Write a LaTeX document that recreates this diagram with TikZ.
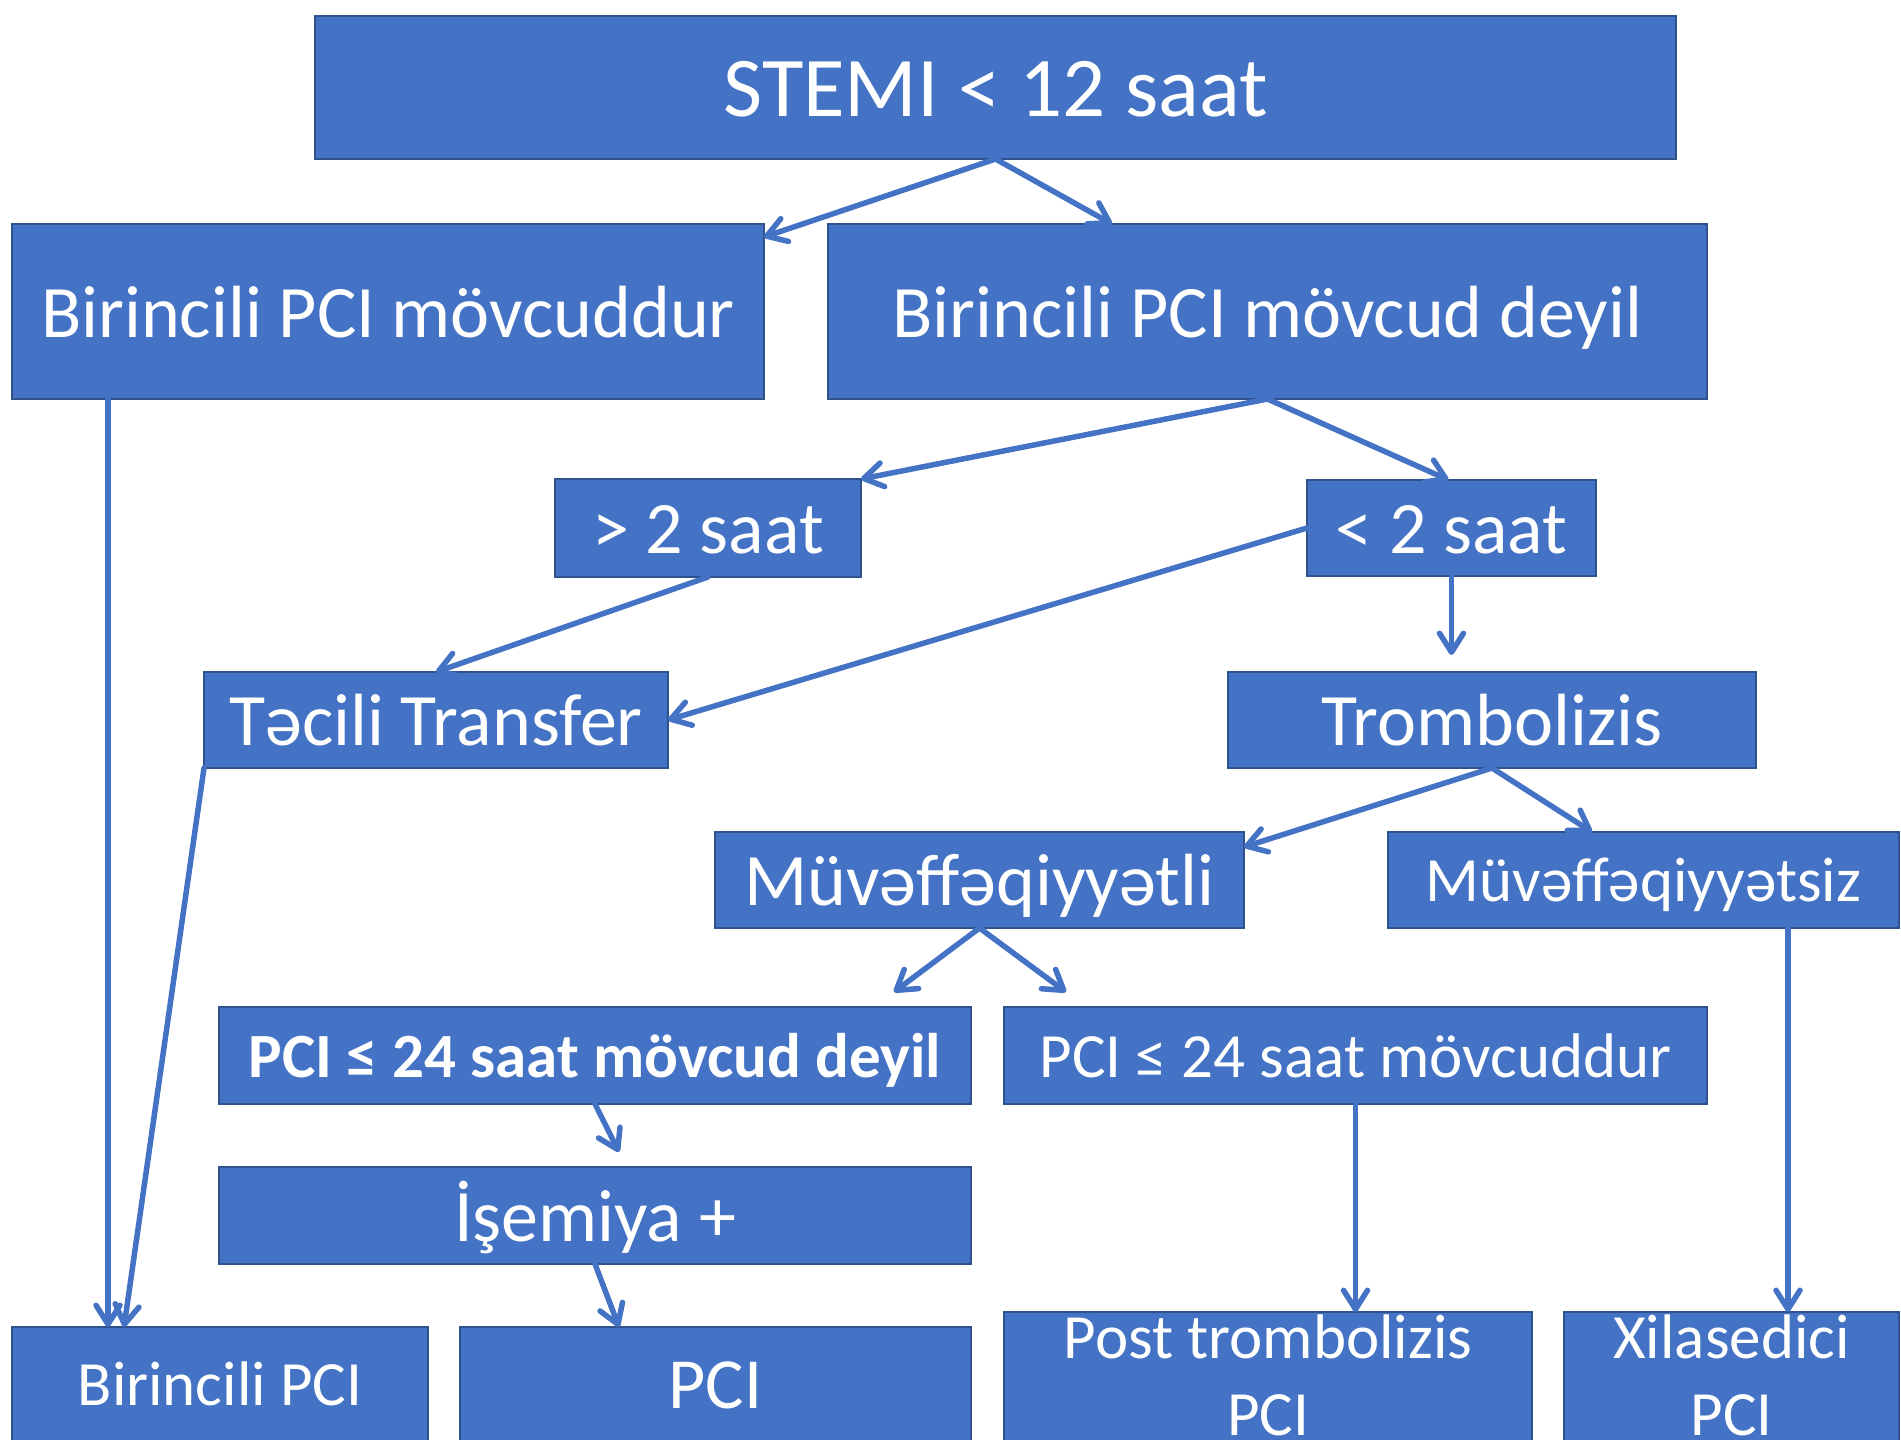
\documentclass[tikz,border=0pt]{standalone}
\usepackage{fontspec}
\setmainfont{Carlito}
\usetikzlibrary{arrows.meta}
\definecolor{bf}{HTML}{4472C4}
\definecolor{bd}{HTML}{2F528F}
\definecolor{cl}{HTML}{4472C4}
\tikzset{
  box/.style={draw=bd, fill=bf, line width=2pt, text=white, inner sep=0pt, outer sep=0pt, anchor=north west, align=center},
  wh/.style 2 args={minimum width=#1pt, minimum height=#2pt},
  fA/.style={font=\fontsize{85}{104}\selectfont, text height=58.7pt, text depth=0pt},
  fB/.style={font=\fontsize{74}{90}\selectfont, text height=51pt, text depth=0pt},
  fC/.style={font=\fontsize{63}{77}\selectfont, text height=43.5pt, text depth=0pt},
  fCb/.style={font=\fontsize{63}{77}\selectfont\bfseries, text height=43.5pt, text depth=0pt},
  fD/.style={font=\fontsize{72}{88}\selectfont, text height=49.7pt, text depth=0pt},
  fCn/.style={font=\fontsize{63}{77}\selectfont},
  conn/.style={draw=cl, line width=5.5pt, line cap=round, -{Straight Barb[length=19pt,width=24pt,round]}},
}
\begin{document}
\begin{tikzpicture}[x=1pt,y=-1pt]
\useasboundingbox (0,0) rectangle (1901,1440);
\clip (0,0) rectangle (1901,1440);
% boxes
\node[box,fA,wh={1361}{143}] (stemi) at (315,16) {STEMI < 12 saat};
\node[box,fB,wh={752}{175}] (avail) at (12,224) {Birincili PCI mövcuddur};
\node[box,fB,wh={879}{175}] (navail) at (828,224) {Birincili PCI mövcud deyil};
\node[box,fB,wh={306}{98}] (gt2) at (555,479) {> 2 saat};
\node[box,fB,wh={289}{96}] (lt2) at (1307,480) {< 2 saat};
\node[box,fB,wh={464}{96}] (transfer) at (204,672) {Təcili Transfer};
\node[box,fB,wh={528}{96}] (tromb) at (1228,672) {Trombolizis};
\node[box,fB,wh={529}{96}] (succ) at (715,832) {Müvəffəqiyyətli};
\node[box,fC,wh={511}{96}] (fail) at (1388,832) {Müvəffəqiyyətsiz};
\node[box,fCb,wh={752}{97}] (nodeyil) at (219,1007) {PCI ≤ 24 saat mövcud deyil};
\node[box,fC,wh={703}{97}] (yes24) at (1004,1007) {PCI ≤ 24 saat mövcuddur};
\node[box,fB,wh={752}{97}] (isch) at (219,1167) {İşemiya +};
\node[box,fC,text depth=10.5pt,wh={416}{123}] (ppci) at (12,1327) {Birincili PCI};
\node[box,fD,text depth=10.5pt,wh={511}{123}] (pci) at (460,1327) {PCI};
\node[box,fCn,wh={528}{148}] (post) at (1004,1312) {\raisebox{0pt}[43.5pt][99.5pt]{\begin{tabular}[t]{@{}c@{}}Post trombolizis\\PCI\end{tabular}}};
\node[box,fCn,wh={335}{148}] (rescue) at (1564,1312) {\raisebox{0pt}[43.5pt][99.5pt]{\begin{tabular}[t]{@{}c@{}}Xilasedici\\PCI\end{tabular}}};
% free ends
\coordinate (c1) at (894,992);
\coordinate (c2) at (1066,992);
\coordinate (c3) at (619,1152);
% connectors
\draw[conn] (stemi.south) -- ([yshift=-13pt]avail.north east);
\draw[conn] (stemi.south) -- ([xshift=284pt]navail.north west);
\draw[conn] (navail.south) -- (gt2.north east);
\draw[conn] (navail.south) -- ([xshift=-3pt]lt2.north);
\draw[conn] (gt2.south) -- (transfer.north);
\draw[conn] (lt2.west) -- (transfer.east);
\draw[conn,shorten >=17pt] (lt2.south) -- (lt2.south |- tromb.north);
\draw[conn] (tromb.south) -- ([yshift=-15pt]succ.north east);
\draw[conn] (tromb.south) -- ([xshift=204pt]fail.north west);
\draw[conn] (succ.south) -- (c1);
\draw[conn] (succ.south) -- (c2);
\draw[conn] (nodeyil.south) -- (c3);
\draw[conn] (isch.south) -- ([xshift=159pt]pci.north west);
\draw[conn] ([xshift=96pt]avail.south west) -- ([xshift=96pt]ppci.north west);
\draw[conn] (transfer.south west) -- ([xshift=112pt]ppci.north west);
\draw[conn] (yes24.south) -- (yes24.south |- post.north);
\draw[conn] ([xshift=400pt]fail.south west) -- ([xshift=400pt]fail.south west |- rescue.north);
\end{tikzpicture}
\end{document}
